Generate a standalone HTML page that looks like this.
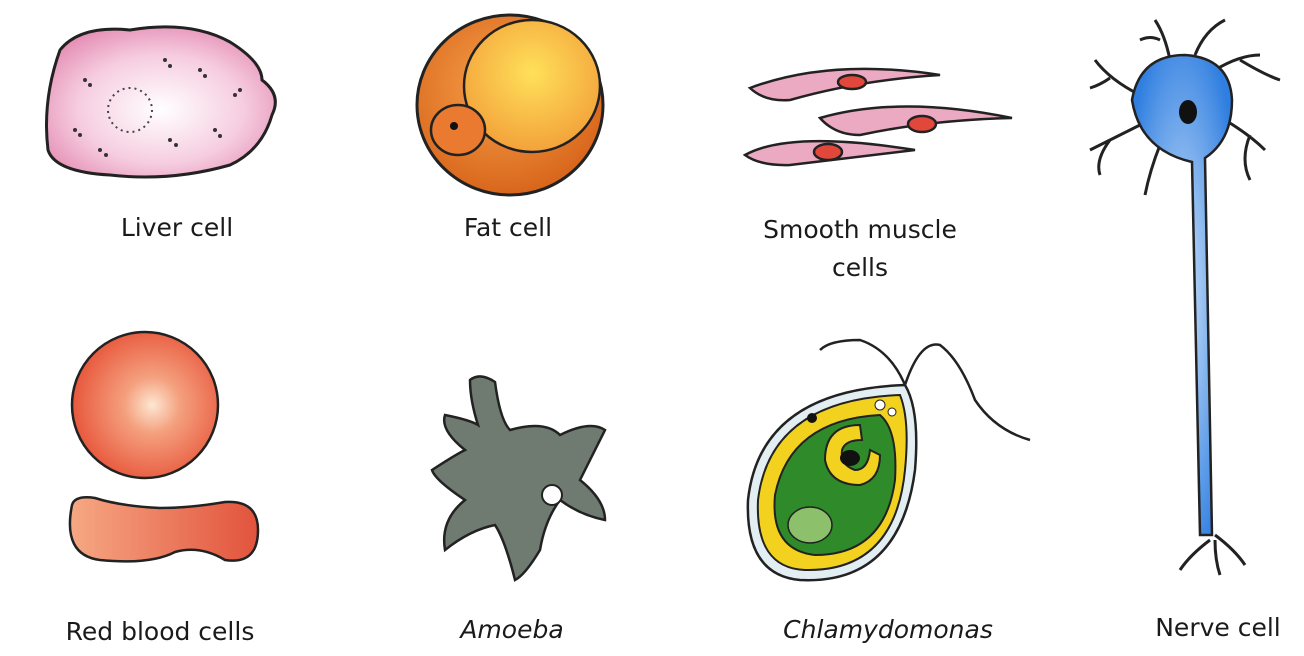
<!DOCTYPE html>
<html><head><meta charset="utf-8"><style>
body{margin:0;background:#fff;}
svg{display:block}
text{font-family:"DejaVu Sans","Liberation Sans",sans-serif;font-size:25px;fill:#1a1a1a}
</style></head><body>
<svg width="1304" height="656" viewBox="0 0 1304 656">
<defs>
<radialGradient id="liver" cx="0.5" cy="0.55" r="0.6"><stop offset="0" stop-color="#fff"/><stop offset="0.6" stop-color="#f6cde0"/><stop offset="1" stop-color="#e58fb5"/></radialGradient>
<radialGradient id="fat" cx="0.45" cy="0.4" r="0.6"><stop offset="0" stop-color="#f7a24a"/><stop offset="1" stop-color="#d8661c"/></radialGradient>
<radialGradient id="fatin" cx="0.5" cy="0.4" r="0.6"><stop offset="0" stop-color="#ffe05a"/><stop offset="1" stop-color="#f3a23a"/></radialGradient>
<radialGradient id="rbc" cx="0.55" cy="0.5" r="0.55"><stop offset="0" stop-color="#fde7d2"/><stop offset="0.35" stop-color="#f4a07e"/><stop offset="1" stop-color="#e8573c"/></radialGradient>
<linearGradient id="rbc2" x1="0" x2="1"><stop offset="0" stop-color="#f6a884"/><stop offset="1" stop-color="#e2533c"/></linearGradient>
<radialGradient id="nerve" cx="0.5" cy="0.5" r="0.6"><stop offset="0" stop-color="#cfe4fb"/><stop offset="1" stop-color="#2f7ee0"/></radialGradient>
</defs>
<g>
<path d="M60,50 Q80,25 130,30 Q190,20 230,42 Q262,62 262,80 Q282,95 272,115 Q262,150 230,165 Q170,182 110,175 Q55,172 48,150 Q42,100 60,50Z" fill="url(#liver)" stroke="#222" stroke-width="3"/>
<circle cx="130" cy="110" r="22" fill="none" stroke="#444" stroke-width="2" stroke-dasharray="2 4"/>
<g fill="#333"><circle cx="85" cy="80" r="2"/><circle cx="90" cy="85" r="2"/><circle cx="165" cy="60" r="2"/><circle cx="170" cy="66" r="2"/><circle cx="200" cy="70" r="2"/><circle cx="205" cy="76" r="2"/><circle cx="100" cy="150" r="2"/><circle cx="106" cy="155" r="2"/><circle cx="215" cy="130" r="2"/><circle cx="220" cy="136" r="2"/><circle cx="170" cy="140" r="2"/><circle cx="176" cy="145" r="2"/><circle cx="75" cy="130" r="2"/><circle cx="80" cy="135" r="2"/><circle cx="235" cy="95" r="2"/><circle cx="240" cy="90" r="2"/></g>
</g>
<text x="177" y="236" text-anchor="middle">Liver cell</text>
<g>
<ellipse cx="510" cy="105" rx="93" ry="90" fill="url(#fat)" stroke="#222" stroke-width="3"/>
<ellipse cx="532" cy="86" rx="68" ry="66" fill="url(#fatin)" stroke="#222" stroke-width="2.5"/>
<ellipse cx="458" cy="130" rx="27" ry="25" fill="#ea7a30" stroke="#222" stroke-width="2.5"/>
<circle cx="454" cy="126" r="4" fill="#111"/>
</g>
<text x="508" y="236" text-anchor="middle">Fat cell</text>
<g fill="#eca9c2" stroke="#222" stroke-width="2.5">
<path d="M750,88 Q830,58 940,75 Q860,80 790,100 Q765,102 750,88Z"/>
<ellipse cx="852" cy="82" rx="14" ry="7" fill="#e2473c"/>
<path d="M820,118 Q900,95 1012,118 Q930,120 860,135 Q835,135 820,118Z"/>
<ellipse cx="922" cy="124" rx="14" ry="8" fill="#e2473c"/>
<path d="M745,155 Q790,130 915,150 Q850,158 790,165 Q760,166 745,155Z"/>
<ellipse cx="828" cy="152" rx="14" ry="8" fill="#e2473c"/>
</g>
<text x="860" y="238" text-anchor="middle">Smooth muscle</text>
<text x="860" y="276" text-anchor="middle">cells</text>
<g>
<g stroke="#222" stroke-width="3" fill="none">
<path d="M1140,95 Q1110,80 1095,60 M1110,78 Q1100,85 1090,88 M1140,125 Q1110,140 1090,150 M1110,140 Q1095,160 1100,175 M1160,145 Q1150,170 1145,195 M1170,60 Q1165,35 1155,20 M1160,40 Q1150,35 1140,40 M1195,55 Q1205,30 1225,20 M1215,70 Q1240,55 1260,55 M1240,60 Q1265,75 1280,80 M1225,120 Q1250,135 1265,150 M1250,135 Q1240,160 1250,180 M1210,540 Q1190,555 1180,570 M1215,540 Q1215,560 1220,575 M1215,535 Q1235,550 1245,565"/>
</g>
<path d="M1132,100 Q1140,55 1185,55 Q1230,58 1232,100 Q1232,140 1205,158 L1212,535 L1200,535 L1192,162 Q1140,150 1132,100Z" fill="url(#nerve)" stroke="#222" stroke-width="2.5"/>
<ellipse cx="1188" cy="112" rx="9" ry="12" fill="#111"/>
</g>
<text x="1218" y="636" text-anchor="middle">Nerve cell</text>
<g>
<circle cx="145" cy="405" r="73" fill="url(#rbc)" stroke="#222" stroke-width="2.5"/>
<path d="M72,505 Q62,555 100,560 Q150,565 175,552 Q200,545 225,560 Q258,565 258,530 Q258,500 225,502 Q190,508 160,508 Q120,506 95,498 Q75,495 72,505Z" fill="url(#rbc2)" stroke="#222" stroke-width="2.5"/>
</g>
<text x="160" y="640" text-anchor="middle">Red blood cells</text>
<g>
<path d="M470,380 Q480,372 495,382 Q500,420 510,430 Q545,420 560,435 Q590,420 605,430 Q590,460 580,480 Q605,500 605,520 Q580,515 560,500 Q545,520 540,550 Q525,575 515,580 Q505,540 495,525 Q470,530 445,550 Q440,520 465,500 Q435,480 432,470 Q455,455 465,450 Q440,430 445,415 Q470,420 478,425 Q470,400 470,380Z" fill="#6f7a70" stroke="#222" stroke-width="2.5"/>
<circle cx="552" cy="495" r="10" fill="#fff" stroke="#222" stroke-width="2"/>
</g>
<text x="512" y="638" text-anchor="middle" font-style="italic">Amoeba</text>
<g>
<path d="M905,385 Q890,350 860,340 Q830,340 820,350 M905,385 Q920,340 940,345 Q960,360 975,400 Q995,430 1030,440" stroke="#222" stroke-width="2.5" fill="none"/>
<path d="M905,385 Q760,390 748,500 Q745,575 800,580 Q900,585 915,470 Q920,410 905,385Z" fill="#e3eef3" stroke="#222" stroke-width="2.5"/>
<path d="M900,395 Q770,400 758,500 Q755,568 805,570 Q895,572 905,470 Q910,420 900,395Z" fill="#f2d21e" stroke="#222" stroke-width="2"/>
<path d="M880,415 Q790,420 775,495 Q770,550 815,555 Q885,555 895,480 Q898,430 880,415Z" fill="#2f8a2a" stroke="#222" stroke-width="2"/>
<path d="M860,425 Q825,425 825,460 Q830,485 860,485 Q880,480 880,455 L870,450 Q868,470 855,470 Q840,465 842,450 Q845,440 862,440Z" fill="#f2d21e" stroke="#222" stroke-width="2"/>
<ellipse cx="850" cy="458" rx="10" ry="8" fill="#111"/>
<ellipse cx="810" cy="525" rx="22" ry="18" fill="#8cc06a" stroke="#222" stroke-width="1.5"/>
<circle cx="880" cy="405" r="5" fill="#fff" stroke="#222"/>
<circle cx="892" cy="412" r="4" fill="#fff" stroke="#222"/>
<circle cx="812" cy="418" r="5" fill="#111"/>
</g>
<text x="888" y="638" text-anchor="middle" font-style="italic">Chlamydomonas</text>
</svg>
</body></html>
